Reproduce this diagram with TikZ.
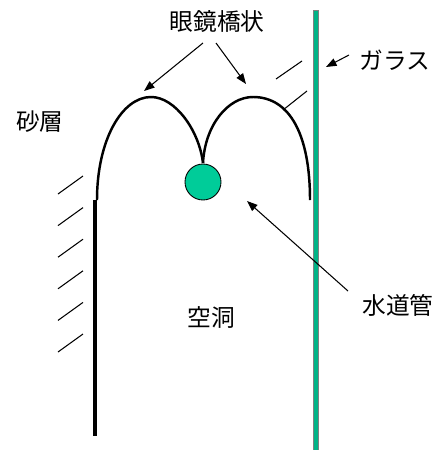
\documentclass[tikz,border=0pt]{standalone}
\usepackage{fontspec}
\usepackage{tikz}
\usepackage{xcolor}
\usetikzlibrary{arrows.meta, positioning}
\newfontfamily\jpfont{Noto Sans CJK JP}
\definecolor{pipegreen}{HTML}{00CC99}
\definecolor{glassgreen}{HTML}{00B386}
\tikzset{
  lbl/.style={font=\jpfont\fontsize{13.5}{16}\selectfont, inner sep=0pt},
  arr/.style={draw, line width=0.6pt, -{Triangle[length=6pt,width=4.5pt]}},
  hatch/.style={draw, line width=0.6pt},
  arch/.style={draw, line width=1.4pt},
}

\begin{document}
\begin{tikzpicture}[x=0.02cm, y=-0.02cm]
\useasboundingbox (0,0) rectangle (446,450);

% glass plate and left wall
\filldraw[fill=glassgreen, draw=gray, line width=0.5pt] (313,10) rectangle (318,452);
\draw[line width=1.9pt] (95,200) -- (95,436);

% sand layer hatching
\foreach \i in {0,...,5}
  \draw[hatch] (58,194+31.6*\i) -- (83,176+31.6*\i);
\draw[hatch] (276,79) -- (302,61);
\draw[hatch] (283,110) -- (307,91);

% the two arches
\draw[arch] (97,200) .. controls (97,140) and (122,97) .. (151,97)
  .. controls (175,97) and (199,130) .. (203,163);
\draw[arch] (203,163) .. controls (205,125) and (228,97) .. (253,97)
  .. controls (290,97) and (310,135) .. (310,200);

% water pipe
\node[draw, circle, fill=pipegreen, line width=0.5pt,
  minimum size=0.72cm, inner sep=0pt] (pipe) at (203,182) {};

% labels
\node[lbl] (megane) at (217,22) {眼鏡橋状};
\node[lbl] (glass) at (395,60) {ガラス};
\node[lbl] (sand) at (40,122) {砂層};
\node[lbl] (cavity) at (211,317) {空洞};
\node[lbl] (suido) at (398,305) {水道管};

\coordinate (m1) at (203,43);
\coordinate (m2) at (216,43);
\coordinate (g1) at (349,55);
\coordinate (s1) at (348,291);
\coordinate (archL) at (144,91);
\coordinate (archR) at (246,84);
\coordinate (glassR) at (326,67);
\coordinate (nearpipe) at (247,201);

\draw[arr] (m1) -- (archL);
\draw[arr] (m2) -- (archR);
\draw[arr] (g1) -- (glassR);
\draw[arr] (s1) -- (nearpipe);

\end{tikzpicture}
\end{document}
